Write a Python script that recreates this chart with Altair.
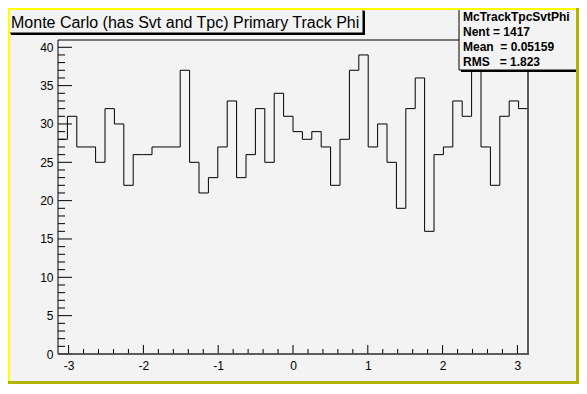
import math
import altair as alt
import pandas as pd

# ---- data (50 bins over [-pi, pi]) ----
counts = [28, 31, 27, 27, 25, 32, 30, 22, 26, 26,
          27, 27, 27, 37, 25, 21, 23, 27, 33, 23,
          26, 32, 25, 34, 31, 29, 28, 29, 27, 22,
          28, 37, 39, 27, 30, 25, 19, 32, 36, 16,
          26, 27, 33, 31, 39, 27, 22, 31, 33, 32]
x_min = -math.pi
x_max = math.pi
y_max = 40.95
x_major = [-3, -2, -1, 0, 1, 2, 3]
y_major = [0, 5, 10, 15, 20, 25, 30, 35, 40]
x_minor = [round(-3 + 0.2 * i, 1) for i in range(31) if i % 5 != 0]
y_minor = [v for v in range(0, 41) if v % 5 != 0]
title_text = "Monte Carlo (has Svt and Tpc) Primary Track Phi"
stats_lines = ["McTrackTpcSvtPhi",
               "Nent = 1417",
               "Mean\u00a0\u00a0= 0.05159",
               "RMS\u00a0\u00a0\u00a0= 1.823"]

n_bins = len(counts)
edges = [x_min + i * (x_max - x_min) / n_bins for i in range(n_bins + 1)]
hist = pd.DataFrame({"x": edges, "y": counts + [counts[-1]]})

FONT = "Liberation Sans"
W, H = 470, 314
BG = "#f3f3f3"

xs = alt.Scale(domain=[x_min, x_max], nice=False, zero=False)
ys = alt.Scale(domain=[0, y_max], nice=False, zero=False)
x_axis = alt.Axis(
    values=x_major, ticks=False, domain=False, grid=False, title=None,
    labelPadding=6, labelFont=FONT, labelFontSize=12, labelColor="black",
    labelExpr="datum.value < 0 ? '-' + format(-datum.value, 'd') : format(datum.value, 'd')")
y_axis = alt.Axis(
    values=y_major, ticks=False, domain=False, grid=False, title=None,
    labelPadding=5, labelFont=FONT, labelFontSize=12, labelColor="black")

line = alt.Chart(hist).mark_line(interpolate="step-after", color="black", strokeWidth=1).encode(
    x=alt.X("x:Q", scale=xs, axis=x_axis),
    y=alt.Y("y:Q", scale=ys, axis=y_axis),
)

one = alt.Data(values=[{"k": 1}])

def rect(x1, x2, y1, y2, fill, stroke=None, sw=1):
    kw = dict(fill=fill)
    if stroke:
        kw.update(stroke=stroke, strokeWidth=sw)
    else:
        kw.update(strokeWidth=0)
    return alt.Chart(one).mark_rect(**kw).encode(
        x=alt.value(x1), x2=alt.value(x2), y=alt.value(y1), y2=alt.value(y2))

def hrule(x1, x2, y, color, sw):
    return alt.Chart(one).mark_rule(color=color, strokeWidth=sw).encode(
        x=alt.value(x1), x2=alt.value(x2), y=alt.value(y))

def vrule(x, y1, y2, color, sw):
    return alt.Chart(one).mark_rule(color=color, strokeWidth=sw).encode(
        x=alt.value(x), y=alt.value(y1), y2=alt.value(y2))

# ticks drawn inward
xmaj = alt.Chart(pd.DataFrame({"x": x_major})).mark_rule(color="black", strokeWidth=1).encode(
    x=alt.X("x:Q", scale=xs, axis=x_axis), y=alt.value(H), y2=alt.value(H - 9))
xmin = alt.Chart(pd.DataFrame({"x": x_minor})).mark_rule(color="black", strokeWidth=1).encode(
    x=alt.X("x:Q", scale=xs, axis=x_axis), y=alt.value(H), y2=alt.value(H - 5))
ymaj = alt.Chart(pd.DataFrame({"y": y_major})).mark_rule(color="black", strokeWidth=1).encode(
    y=alt.Y("y:Q", scale=ys, axis=y_axis), x=alt.value(0), x2=alt.value(14))
ymin = alt.Chart(pd.DataFrame({"y": y_minor})).mark_rule(color="black", strokeWidth=1).encode(
    y=alt.Y("y:Q", scale=ys, axis=y_axis), x=alt.value(0), x2=alt.value(7))

# frame
frame = rect(0, W, 0, H, "transparent", "black", 1)
frame_r = vrule(W, 0, H + 1, "#555555", 1.5)
frame_b = hrule(0, W + 1, H, "#555555", 1.5)

# title box with shadow
title_shadow = rect(-47, 307, -29, -5, "black")
title_box = rect(-49, 305, -31, -7, BG, "black", 1)
title = alt.Chart(one).mark_text(
    text=title_text, font=FONT, fontSize=16, align="left", baseline="alphabetic", color="black"
).encode(x=alt.value(-47), y=alt.value(-12))

# stats box with shadow
stats_shadow = rect(403, 521, -29, 32, "black")
stats_box = rect(401, 519, -31, 30, BG, "black", 1)
stats_df = pd.DataFrame({"t": stats_lines, "i": list(range(len(stats_lines)))})
stats = alt.Chart(stats_df).transform_calculate(
    py="-19.5 + datum.i * 15"
).mark_text(font=FONT, fontSize=12, fontWeight="bold", align="left",
            baseline="alphabetic", color="black").encode(
    x=alt.value(405), y=alt.Y("py:Q", scale=None), text="t:N")

# canvas border (ROOT-style bevel)
b_left = vrule(-49, -32, 344, "#ffff00", 2)
b_top = hrule(-50, 521, -31, "#ffff00", 2)
b_right = vrule(519.5, -32, 344, "#b3b300", 3)
b_bottom = hrule(-50, 521, 342.5, "#b3b300", 3)

chart = alt.layer(
    line, xmaj, xmin, ymaj, ymin, frame, frame_r, frame_b,
    title_shadow, title_box, title,
    stats_shadow, stats_box, stats,
    b_left, b_top, b_right, b_bottom,
).properties(
    width=W, height=H,
    padding={"left": 50, "top": 32, "right": 51, "bottom": 30},
    autosize=alt.AutoSizeParams(type="none"),
    background=BG,
).configure_view(stroke=None)

chart.save("out.html", embed_options={"renderer": "svg", "actions": False})
